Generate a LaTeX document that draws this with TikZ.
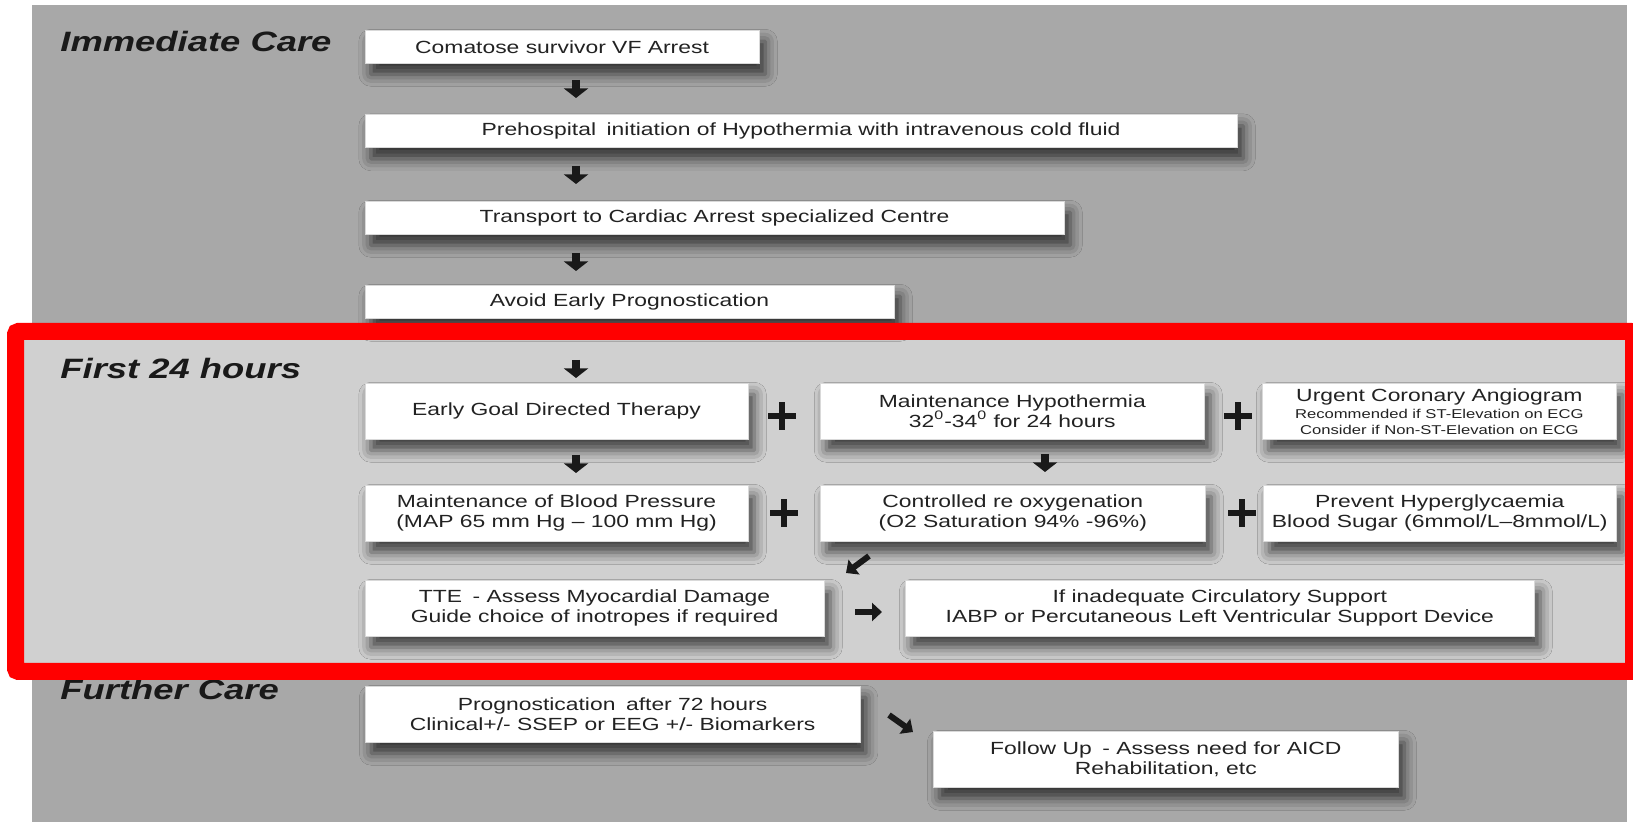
\documentclass[tikz,border=0pt]{standalone}
\usepackage{fontspec}
\setmainfont[FakeStretch=1.3]{Liberation Sans}
\usetikzlibrary{arrows.meta,shadows.blur,shapes.misc}
\definecolor{panelgray}{HTML}{A8A8A8}
\definecolor{lightpanel}{HTML}{D0D0D0}
\definecolor{txt}{HTML}{222222}
\begin{document}
\begin{tikzpicture}[x=0.5pt,y=-0.5pt,
  box/.style={draw=black!15, line width=0.3pt, fill=white, anchor=north west, inner sep=0pt,
    align=center, text=txt, font=\fontsize{8.8}{10}\selectfont,
    blur shadow={shadow xshift=3pt, shadow yshift=-5.5pt, shadow blur radius=6pt, shadow opacity=70}},
  heading/.style={anchor=base west, inner sep=0pt, font=\fontsize{14}{15}\selectfont\bfseries\itshape, text=black!90},
  bigarrow/.style={line width=4pt, -{Triangle[width=12pt,length=4.8pt]}, draw=black!90},
  sidearrow/.style={line width=3pt, -{Triangle[width=9pt,length=5pt]}, draw=black!90},
  plusmark/.style={cross out, draw=black!90, line width=3.4pt, minimum size=6.2pt, inner sep=0pt, rotate=45}
]
\useasboundingbox (0,0) rectangle (1633,822);
\fill[white] (0,0) rectangle (1633,822);
\fill[panelgray] (32,5) rectangle (1627,822);
\fill[lightpanel] (24,340) rectangle (1625,663);

% headings
\node[heading] (h1) at (60,52) {Immediate Care};
\node[heading] (h2) at (60,379) {First 24 hours};
\node[heading] (h3) at (60,700) {Further Care};

% immediate care
\node[box, minimum width=197.25pt, minimum height=16.5pt] (b1) at (364.5,30) {Comatose survivor VF Arrest};
\node[box, minimum width=436.25pt, minimum height=16.5pt] (b2) at (364.5,114.5) {Prehospital\hspace{0.6em}initiation of Hypothermia with intravenous cold fluid};
\node[box, minimum width=349.75pt, minimum height=16.5pt] (b3) at (364.5,201) {Transport to Cardiac Arrest specialized Centre};
\node[box, minimum width=264.75pt, minimum height=16.5pt] (b4) at (364.5,285) {Avoid Early Prognostication};

% first 24 hours
\node[box, minimum width=191.75pt, minimum height=28pt] (egdt) at (364.5,383) {Early Goal Directed Therapy};
\node[box, minimum width=192pt, minimum height=28pt] (mh) at (820,383) {Maintenance Hypothermia\\32\textsuperscript{0}-34\textsuperscript{0} for 24 hours};
\node[box, minimum width=177pt, minimum height=28pt] (ucag) at (1262,383) {Urgent Coronary Angiogram\\[-1.5pt]{\fontsize{6.4}{7.5}\selectfont Recommended if ST-Elevation on ECG}\\[-2pt]{\fontsize{6.4}{7.5}\selectfont Consider if Non-ST-Elevation on ECG}};
\node[box, minimum width=191.75pt, minimum height=28pt] (mbp) at (364.5,485) {Maintenance of Blood Pressure\\(MAP 65 mm Hg -- 100 mm Hg)};
\node[box, minimum width=192.5pt, minimum height=28pt] (cro) at (820,485) {Controlled re oxygenation\\(O2 Saturation 94\% -96\%)};
\node[box, minimum width=176.5pt, minimum height=28pt] (ph) at (1263,485) {Prevent Hyperglycaemia\\Blood Sugar (6mmol/L--8mmol/L)};
\node[box, minimum width=229.75pt, minimum height=28pt] (tte) at (364.5,580) {TTE\hspace{0.6em}- Assess Myocardial Damage\\Guide choice of inotropes if required};
\node[box, minimum width=314.5pt, minimum height=28pt] (iabp) at (905,580) {If inadequate Circulatory Support\\IABP or Percutaneous Left Ventricular Support Device};

% further care
\node[box, minimum width=247.25pt, minimum height=28pt] (prog) at (365,686) {Prognostication\hspace{0.6em}after 72 hours\\Clinical+/- SSEP or EEG +/- Biomarkers};
\node[box, minimum width=232.5pt, minimum height=28pt] (fu) at (933,731) {Follow Up\hspace{0.6em}- Assess need for AICD\\Rehabilitation, etc};

% plus signs
\node[plusmark] (p1) at (782,416) {};
\node[plusmark] (p2) at (1238,416) {};
\node[plusmark] (p3) at (784,513) {};
\node[plusmark] (p4) at (1242,513) {};

% arrow end points
\coordinate (a1s) at (576,80);   \coordinate (a1e) at (576,98);
\coordinate (a2s) at (576,166);  \coordinate (a2e) at (576,184);
\coordinate (a3s) at (576,253);  \coordinate (a3e) at (576,271);
\coordinate (a4s) at (576,360);  \coordinate (a4e) at (576,378);
\coordinate (a5s) at (576,455);  \coordinate (a5e) at (576,473);
\coordinate (a6s) at (1045,454); \coordinate (a6e) at (1045,472);
\coordinate (a7s) at (869,556);  \coordinate (a7e) at (846,573);
\coordinate (a8s) at (855,612);  \coordinate (a8e) at (882,612);
\coordinate (a9s) at (889,715);  \coordinate (a9e) at (913,732);
\foreach \i in {1,...,6} \draw[bigarrow] (a\i s) -- (a\i e);
\foreach \i in {7,8,9} \draw[sidearrow] (a\i s) -- (a\i e);

% red highlight frame
\draw[red, line width=8.5pt, rounded corners=1.5pt] (15.5,331.5) rectangle (1633.5,671.5);
\end{tikzpicture}
\end{document}
